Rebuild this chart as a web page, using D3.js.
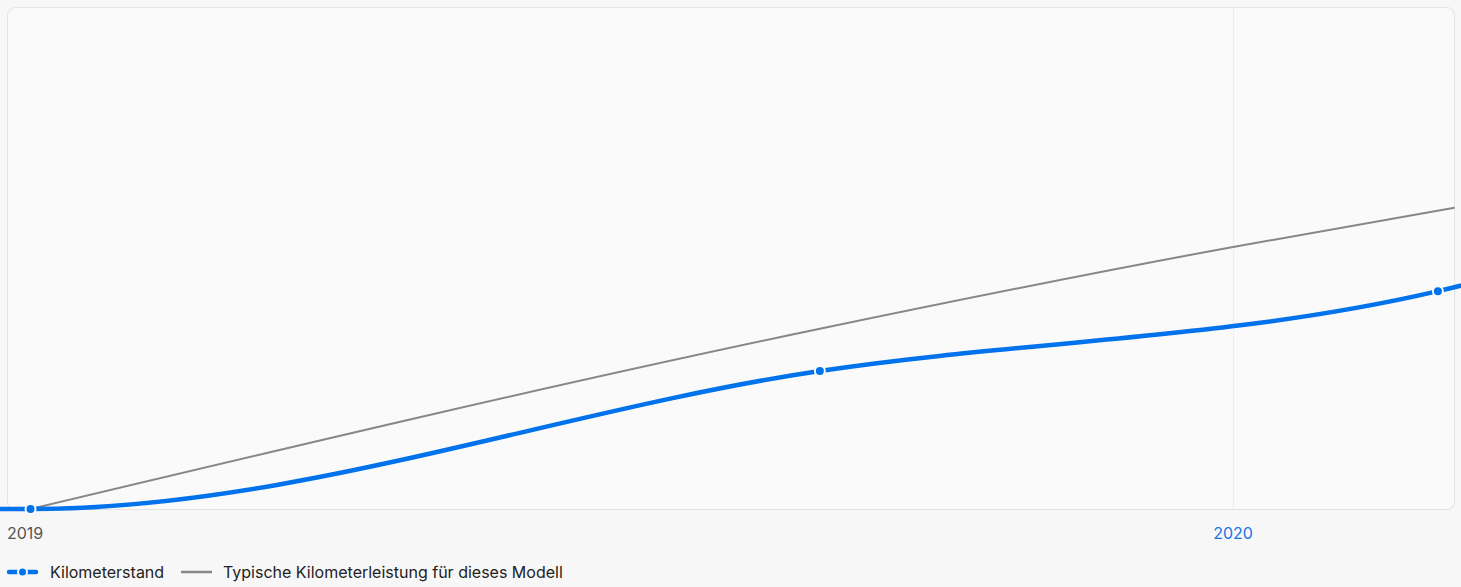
<!DOCTYPE html>
<html>
<head>
<meta charset="utf-8">
<script src="https://cdn.jsdelivr.net/npm/d3@7"></script>
<style>
  body { margin: 0; background: #f7f7f7; font-family: Inter, "Noto Sans", sans-serif; }
</style>
</head>
<body>
<div id="chart"></div>
<script>
var w = 1461,
	h = 587;

// Kilometerstand (Messpunkte; der erste und letzte liegen ausserhalb des sichtbaren Bereichs)
var mileageDates = ["2018-11-01", "2019-01-08", "2019-08-31", "2020-03-02", "2020-06-15"];
var mileageValues = [0, 0, 13750, 21700, 32000];
var shownPoints = [1, 2, 3];

// typische Kilometerleistung
var typicalDates = ["2019-01-08", "2019-08-31", "2020-01-01", "2020-03-07"];
var typicalValues = [0, 17950, 26100, 30000];

// Achse
var tickDates = ["2019-01-01", "2020-01-01"];
var tickLabels = ["2019", "2020"];

var legendLabels = ["Kilometerstand", "Typische Kilometerleistung für dieses Modell"];

var blue = "#0072eb",
	grey = "#878787";

var parse = d3.utcParse("%Y-%m-%d");

var plot = { left: 7, right: 1454, top: 7, bottom: 509 };

var x = d3.scaleUtc()
	.domain([parse(tickDates[0]), parse(tickDates[1])])
	.range([plot.left, 1233]);

var y = d3.scaleLinear()
	.domain([0, 50000])
	.range([plot.bottom, plot.top]);

var mileage = mileageDates.map(function(d, i){ return { date: parse(d), value: mileageValues[i] }; });
var typical = typicalDates.map(function(d, i){ return { date: parse(d), value: typicalValues[i] }; });

var svg = d3.select("#chart")
	.append("svg")
	.attr("width", w)
	.attr("height", h)
	.style("display", "block");

// Hintergrund des Diagramms
svg.append("rect")
	.attr("x", plot.left + 0.5)
	.attr("y", plot.top + 0.5)
	.attr("width", plot.right - plot.left)
	.attr("height", plot.bottom - plot.top)
	.attr("rx", 8)
	.attr("fill", "#fafafa")
	.attr("stroke", "#e3e3e3");

// Gitterlinie fuer 2020
svg.append("line")
	.attr("x1", x(parse(tickDates[1])) + 0.5)
	.attr("x2", x(parse(tickDates[1])) + 0.5)
	.attr("y1", plot.top + 1)
	.attr("y2", plot.bottom)
	.attr("stroke", "#eeeeee");

// Achsenbeschriftung
svg.selectAll("text.tick")
	.data(tickDates)
	.enter()
	.append("text")
	.attr("class", "tick")
	.attr("x", function(d){ return x(parse(d)); })
	.attr("y", 539)
	.attr("text-anchor", function(d, i){ return i == 0 ? "start" : "middle"; })
	.attr("font-size", "16px")
	.attr("fill", function(d, i){ return i == 0 ? "#555555" : "#1a73e8"; })
	.text(function(d, i){ return tickLabels[i]; });

// typische Linie
var line = d3.line()
	.x(function(d){ return x(d.date); })
	.y(function(d){ return y(d.value); })
	.curve(d3.curveMonotoneX);

svg.append("path")
	.datum(typical)
	.attr("d", line)
	.attr("fill", "none")
	.attr("stroke", grey)
	.attr("stroke-width", 2);

// Kilometerstand
svg.append("path")
	.datum(mileage)
	.attr("d", line)
	.attr("fill", "none")
	.attr("stroke", blue)
	.attr("stroke-width", 4.5);

svg.selectAll("circle.pt")
	.data(shownPoints.map(function(i){ return mileage[i]; }))
	.enter()
	.append("circle")
	.attr("class", "pt")
	.attr("cx", function(d){ return x(d.date); })
	.attr("cy", function(d){ return y(d.value); })
	.attr("r", 5)
	.attr("fill", blue)
	.attr("stroke", "#fafafa")
	.attr("stroke-width", 2);

// Legende
var legend = svg.append("g").attr("transform", "translate(0,572)");

legend.append("line")
	.attr("x1", 9).attr("x2", 36)
	.attr("stroke", blue)
	.attr("stroke-width", 4.5)
	.attr("stroke-linecap", "round");
legend.append("circle")
	.attr("cx", 22.5).attr("r", 4.5)
	.attr("fill", blue)
	.attr("stroke", "#f7f7f7")
	.attr("stroke-width", 2);

legend.append("line")
	.attr("x1", 181).attr("x2", 212)
	.attr("stroke", grey)
	.attr("stroke-width", 2.5);

legend.selectAll("text")
	.data(legendLabels)
	.enter()
	.append("text")
	.attr("x", function(d, i){ return i == 0 ? 50 : 223; })
	.attr("y", 6)
	.attr("font-size", "16px")
	.attr("fill", "#222222")
	.text(function(d){ return d; });
</script>
</body>
</html>
